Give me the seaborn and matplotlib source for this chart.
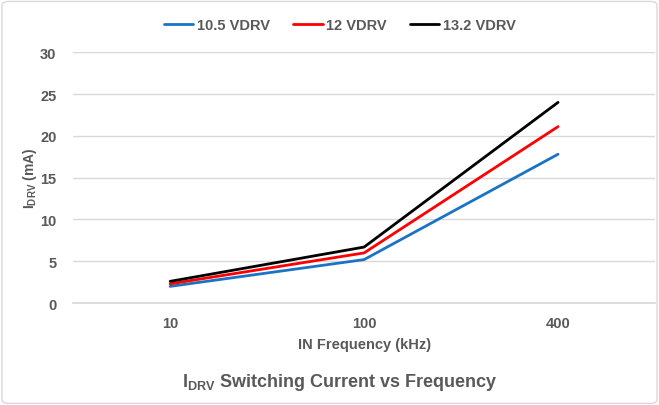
import matplotlib
matplotlib.use("Agg")
import matplotlib.pyplot as plt
import seaborn as sns
import pandas as pd
from matplotlib.patches import FancyBboxPatch
from matplotlib.lines import Line2D

frequencies = ["10", "100", "400"]
series_names = ["10.5 VDRV", "12 VDRV", "13.2 VDRV"]
v105 = [2.0, 5.2, 17.8]
v12 = [2.3, 6.0, 21.1]
v132 = [2.6, 6.7, 24.0]
colors = ["#1a73c4", "#ff0000", "#000000"]

rows = []
for name, vals in zip(series_names, [v105, v12, v132]):
    for f, v in zip(frequencies, vals):
        rows.append({"freq": f, "val": v, "series": name})
df = pd.DataFrame(rows)

sns.set_theme(style="white")
plt.rcParams["font.family"] = ["Liberation Sans", "DejaVu Sans"]
plt.rcParams["mathtext.fontset"] = "custom"
plt.rcParams["mathtext.rm"] = "Liberation Sans:bold"
plt.rcParams["mathtext.it"] = "Liberation Sans:bold"
plt.rcParams["mathtext.bf"] = "Liberation Sans:bold"

txt = "#595959"
fig = plt.figure(figsize=(6.59, 4.06), dpi=100)
ax = fig.add_axes([0.111, 0.251, 0.883, 0.618])

sns.lineplot(data=df, x="freq", y="val", hue="series", palette=colors,
             sort=False, linewidth=2.0, ax=ax, legend=False)

ax.set_xlim(-0.5, 2.5)
ax.set_ylim(0, 30)
ax.set_yticks([0, 5, 10, 15, 20, 25, 30])
ax.grid(axis="y", color="#d9d9d9", linewidth=1.0)
ax.set_axisbelow(True)
for s in ["top", "right", "left"]:
    ax.spines[s].set_visible(False)
ax.spines["bottom"].set_color("#d9d9d9")
ax.tick_params(axis="both", length=0, labelsize=10.5, labelcolor=txt, pad=12)
for lab in ax.get_xticklabels() + ax.get_yticklabels():
    lab.set_fontweight("bold")
ax.tick_params(axis="x", pad=9)

ax.set_xlabel("IN Frequency (kHz)", fontsize=10.5, fontweight="bold", color=txt, labelpad=5)
ax.set_ylabel(r"$\mathregular{I_{DRV}}$ (mA)", fontsize=10, fontweight="bold", color=txt, labelpad=1)

handles = [Line2D([0], [0], color=c, lw=2.0) for c in colors]
leg = fig.legend(handles, series_names, loc="center", bbox_to_anchor=(0.516, 0.935),
                 ncol=3, frameon=False, fontsize=10.5, handlelength=2.0,
                 handletextpad=0.25, columnspacing=1.6)
for t in leg.get_texts():
    t.set_fontweight("bold")
    t.set_color(txt)

fig.text(0.515, 0.058, r"$\mathregular{I_{DRV}}$ Switching Current vs Frequency",
         ha="center", va="center", fontsize=13, fontweight="bold", color=txt)

border = FancyBboxPatch((0.003, 0.004), 0.994, 0.99, boxstyle="round,pad=0,rounding_size=0.01",
                        transform=fig.transFigure, fill=False, edgecolor="#d9d9d9", linewidth=1.0)
fig.patches.append(border)

fig.savefig("out.png", dpi=100)
